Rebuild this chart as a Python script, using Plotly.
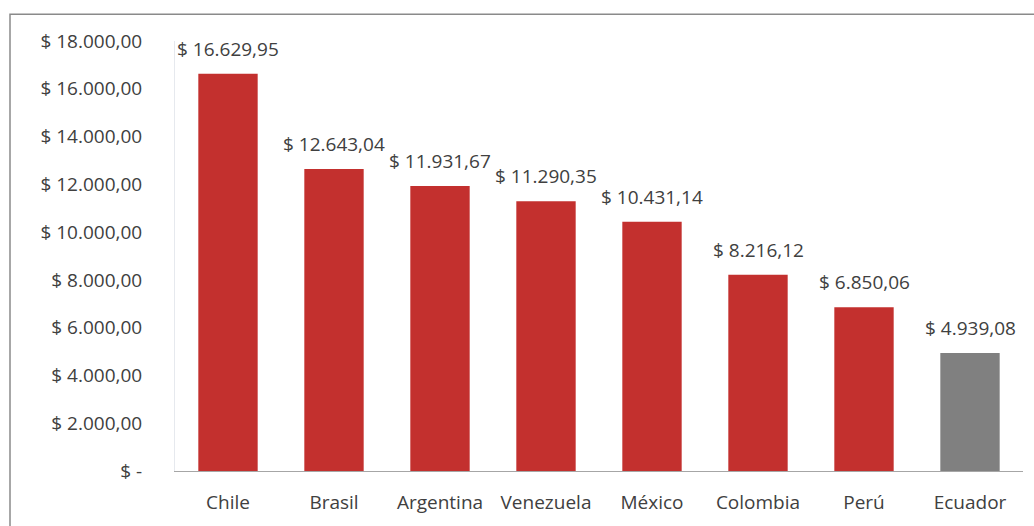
import plotly.graph_objects as go

countries = ["Chile", "Brasil", "Argentina", "Venezuela", "México", "Colombia", "Perú", "Ecuador"]
values = [16629.95, 12643.04, 11931.67, 11290.35, 10431.14, 8216.12, 6850.06, 4939.08]
labels = ["$ 16.629,95", "$ 12.643,04", "$ 11.931,67", "$ 11.290,35", "$ 10.431,14",
          "$ 8.216,12", "$ 6.850,06", "$ 4.939,08"]
tick_vals = [0, 2000, 4000, 6000, 8000, 10000, 12000, 14000, 16000, 18000]
tick_text = ["$ -", "$ 2.000,00", "$ 4.000,00", "$ 6.000,00", "$ 8.000,00", "$ 10.000,00",
             "$ 12.000,00", "$ 14.000,00", "$ 16.000,00", "$ 18.000,00"]

RED = "#c3302e"
GRAY = "#808080"
colors = [GRAY if c == "Ecuador" else RED for c in countries]
FONT = "'Open Sans', sans-serif"
TXT = "#404040"
FS = 19

fig = go.Figure()
fig.add_trace(go.Bar(x=countries, y=values, marker=dict(color=colors, line=dict(width=0)),
                     hoverinfo="x+y"))

for c, v, t in zip(countries, values, labels):
    fig.add_annotation(x=c, y=v, text=t, showarrow=False, yanchor="bottom",
                       yshift=10, font=dict(family=FONT, size=FS, color=TXT))

L, R, T, B = 175, 11, 41, 53
W, H = 1034, 526
pw, ph = W - L - R, H - T - B
fig.add_shape(type="rect", xref="paper", yref="paper",
              x0=(10 - L) / pw, x1=(1040 - L) / pw,
              y0=(H - B - 540) / ph, y1=(H - B - 14) / ph,
              line=dict(color="#8a8a8a", width=1.5), fillcolor="rgba(0,0,0,0)", layer="below")

fig.update_layout(
    width=W, height=H, margin=dict(l=L, r=R, t=T, b=B),
    paper_bgcolor="white", plot_bgcolor="white",
    bargap=0.44, showlegend=False,
    font=dict(family=FONT, size=FS, color=TXT),
    xaxis=dict(showline=True, linecolor="#a6a6a6", linewidth=1, ticks="",
               tickfont=dict(family=FONT, size=FS, color=TXT), ticklabelstandoff=14,
               showgrid=False),
    yaxis=dict(range=[0, 18000], tickvals=tick_vals, ticktext=tick_text, showgrid=False,
               zeroline=False, showline=True, linecolor="#e6e9ee", linewidth=1,
               tickfont=dict(family=FONT, size=FS, color=TXT), ticklabelstandoff=28, ticks=""),
)

fig.write_html("out.html")
